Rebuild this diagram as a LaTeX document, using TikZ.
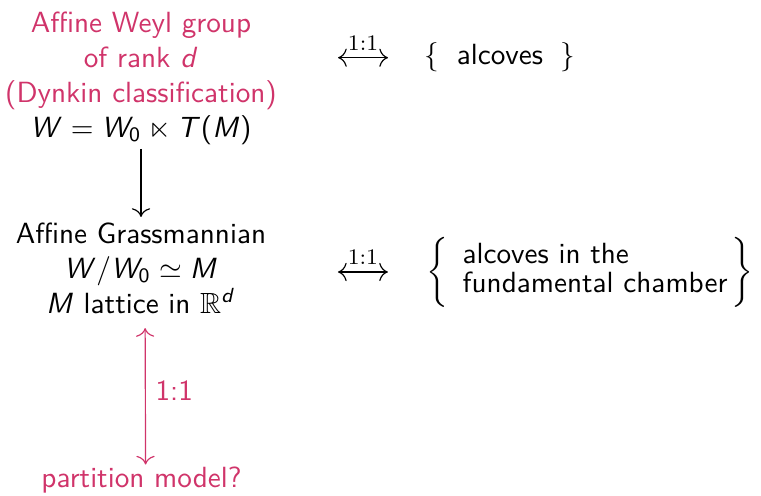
\documentclass[tikz,border=0pt]{standalone}
\usepackage{amsmath}
\usepackage{amssymb}
\usepackage{xcolor}
\usepackage{tikz}
\usetikzlibrary{arrows.meta, positioning}
\renewcommand\familydefault{\sfdefault}
\DeclareSymbolFont{sfletters}{OT1}{cmss}{m}{sl}
\SetSymbolFont{operators}{normal}{OT1}{cmss}{m}{n}
\DeclareMathSymbol{W}{\mathalpha}{sfletters}{`W}
\DeclareMathSymbol{M}{\mathalpha}{sfletters}{`M}
\DeclareMathSymbol{T}{\mathalpha}{sfletters}{`T}
\DeclareMathSymbol{d}{\mathalpha}{sfletters}{`d}
\definecolor{alertpink}{RGB}{208,52,106}

\begin{document}
\begin{tikzpicture}[
      x=0.3425pt, y=-0.3425pt,
      >={Computer Modern Rightarrow[scale=1.2]},
      every node/.style={inner sep=0pt, align=center},
      alert/.style={text=alertpink},
      bij/.style={<->},
      map/.style={->, shorten <=1.3pt, shorten >=1.7pt},
      tag/.style={font=\fontsize{7.6}{9}\selectfont\rmfamily}
    ]
      \useasboundingbox (0,0) rectangle (761,496);
      \node[alert] (weyl) at (141,78) {Affine Weyl group\\ of rank $d$\\ (Dynkin classification)\\ \textcolor{black}{$W = W_0 \ltimes T(M)$}};
      \node (grass) at (141,268) {Affine Grassmannian\\ $W/W_0 \simeq M$\\ $M$ lattice in $\mathbb{R}^d$};
      \node[alert] (part) at (141.5,480) {partition model?};
      \node (alc) at (500,57.7) {$\{\hspace{6pt}\text{alcoves}\hspace{6pt}\}$};
      \node (fund) at (590,272) {\renewcommand\arraystretch{0.85}$\left\{\begin{array}{@{\hspace{5pt}}l@{\hspace{1.5pt}}}\text{alcoves in the}\\ \text{fundamental chamber}\end{array}\right\}$};
      % arrows
      \draw[map] (weyl) -- (grass);
      \draw[bij, alertpink, shorten <=4.8pt, shorten >=0.6pt] ([xshift=1.4pt]grass.south) -- ([xshift=1.4pt]part.north)
        node[midway, right=3.3pt, alert] {1:1};
      \draw[bij] ([xshift=-29.5pt]alc.west) -- ([xshift=-12.4pt]alc.west)
        node[midway, above=2.2pt, tag] {1:1};
      \draw[bij] ([xshift=-30pt]fund.west) -- ([xshift=-12.9pt]fund.west)
        node[midway, above=2.2pt, tag] {1:1};
    \end{tikzpicture}
\end{document}
